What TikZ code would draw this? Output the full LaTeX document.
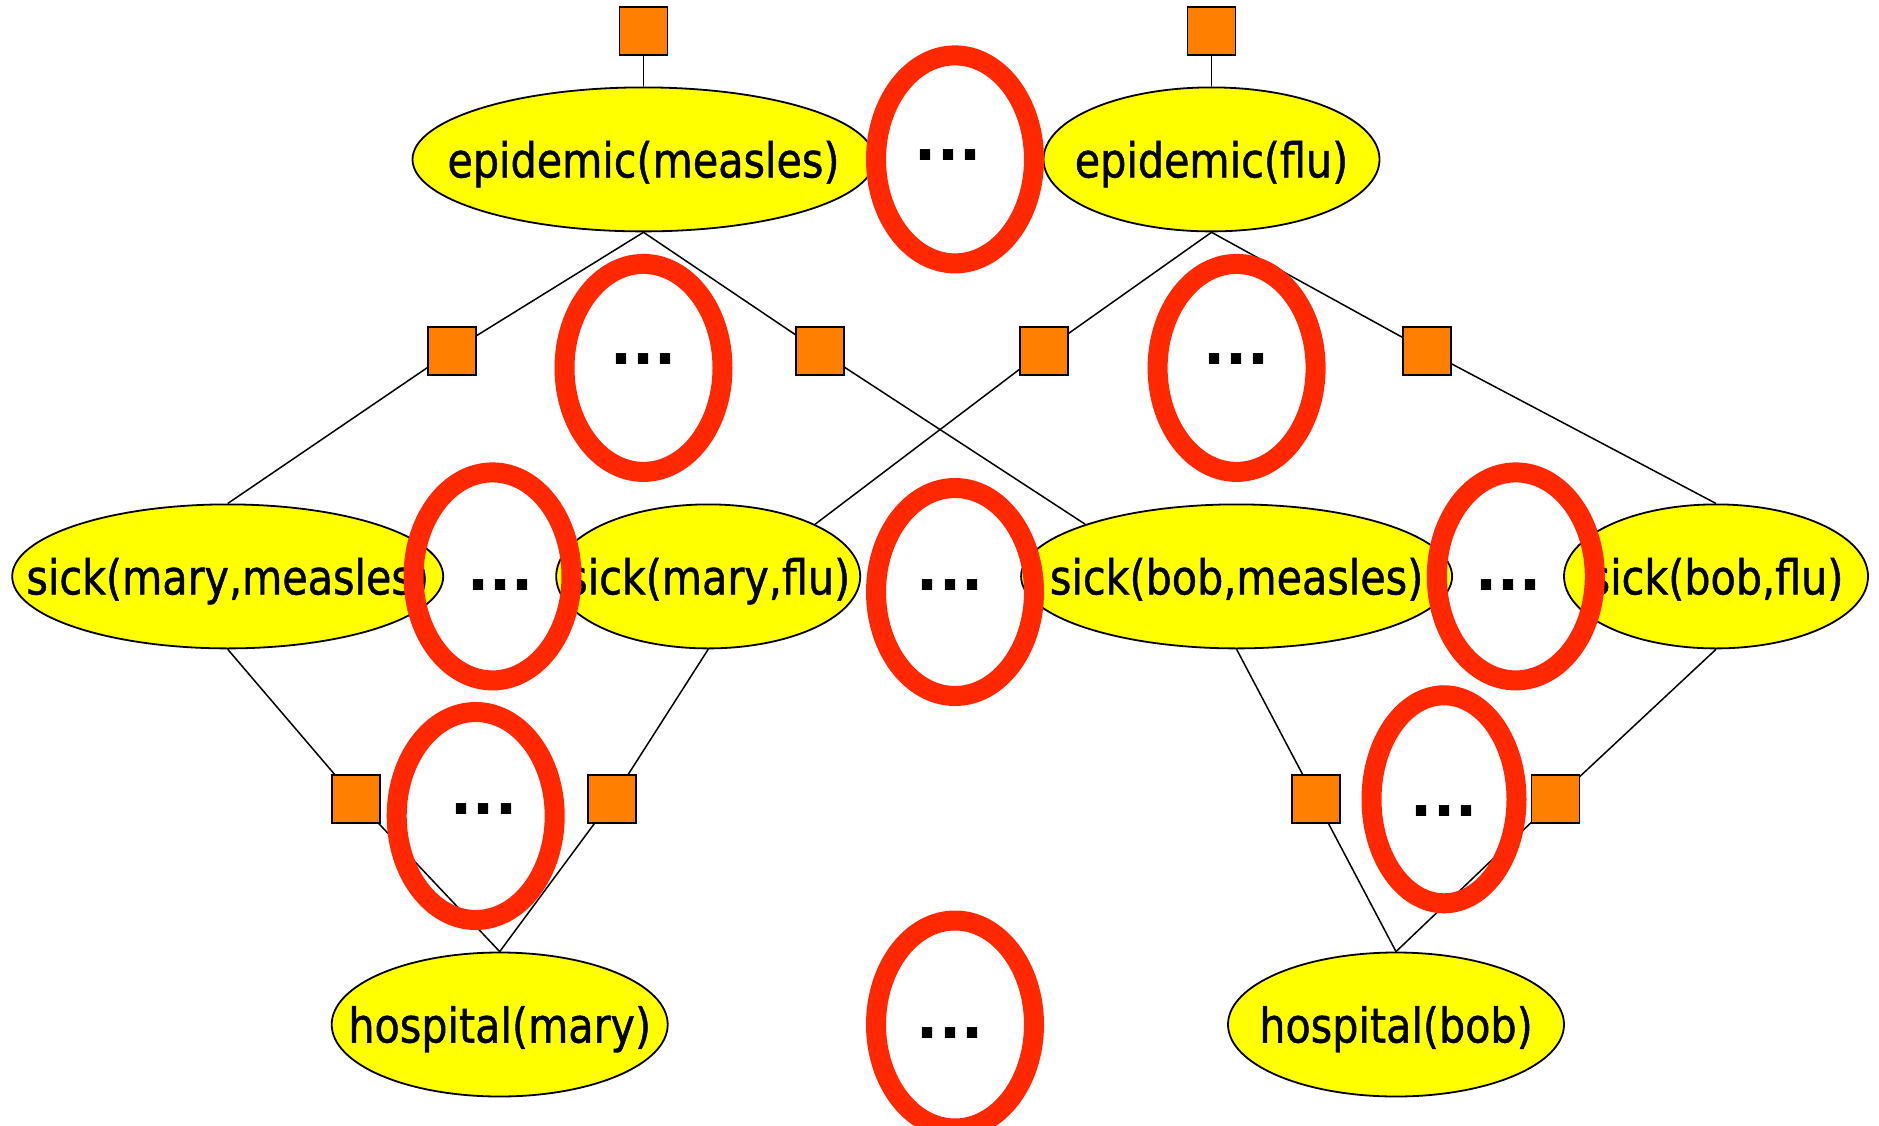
\documentclass[tikz,border=0pt]{standalone}
\usepackage{fontspec}
\setmainfont{DejaVu Sans}[FakeStretch=0.86,FakeBold=1]
\newfontfamily\dotsfont{DejaVu Sans}
\usetikzlibrary{shapes.geometric}
\pgfdeclarelayer{bg}
\pgfsetlayers{bg,main}
\definecolor{nodeyellow}{HTML}{FFFF00}
\definecolor{factororange}{HTML}{FF7F00}
\definecolor{ringred}{HTML}{FF2800}
\newcommand\zwtext[1]{\raisebox{-18pt}[0pt][0pt]{\makebox[0pt]{#1}}}
\begin{document}
\begin{tikzpicture}[x=1pt,y=-1pt,
 varnode/.style={ellipse, draw=black, line width=1.8pt, fill=nodeyellow, minimum height=144pt, inner sep=0pt, font=\fontsize{48}{52}\selectfont},
 factor/.style={rectangle, draw=black, line width=1.8pt, fill=factororange, minimum width=48pt, minimum height=48pt, inner sep=0pt},
 ring/.style={ellipse, draw=ringred, line width=20pt, minimum width=158pt, minimum height=208pt, inner sep=0pt},
 dotstext/.style={inner sep=0pt, font=\dotsfont\bfseries\fontsize{58}{60}\selectfont},
 conn/.style={draw=black, line width=1.5pt}]
\useasboundingbox (0,0) rectangle (1879,1126);
\clip (0,0) rectangle (1879,1126);
% factor and variable nodes
\node[factor] (t1) at (643.5,31.2) {};
\node[factor] (t2) at (1211.5,31.2) {};
\node[varnode, minimum width=462pt] (em) at (643.5,159.4) {\zwtext{epidemic(measles)}};
\node[varnode, minimum width=336pt] (ef) at (1211.5,159.4) {\zwtext{epidemic(flu)}};
\node[factor] (f1) at (451.8,351) {};
\node[factor] (f2) at (819.6,351) {};
\node[factor] (f3) at (1043.7,351) {};
\node[factor] (f4) at (1427.2,351) {};
\node[varnode, minimum width=431pt] (smm) at (227.7,576.4) {\zwtext{sick(mary,measles)}};
\node[varnode, minimum width=304pt] (smf) at (708.2,576.4) {\zwtext{sick(mary,flu)}};
\node[varnode, minimum width=431pt] (sbm) at (1236.6,576.4) {\zwtext{sick(bob,measles)}};
\node[varnode, minimum width=304pt] (sbf) at (1716,576.4) {\zwtext{sick(bob,flu)}};
\node[factor] (f5) at (355.9,799.3) {};
\node[factor] (f6) at (612.3,799.3) {};
\node[factor] (f7) at (1315.7,799.3) {};
\node[factor] (f8) at (1555.4,799.3) {};
\node[varnode, minimum width=336pt] (hm) at (499.7,1024.5) {\zwtext{hospital(mary)}};
\node[varnode, minimum width=336pt] (hb) at (1396,1024.5) {\zwtext{hospital(bob)}};
% connectors
\begin{pgfonlayer}{bg}
\draw[conn] (t1) -- (em.north);
\draw[conn] (t2) -- (ef.north);
\draw[conn] (em.south) -- (f1.center) -- (smm.north);
\draw[conn] (em.south) -- (f2.center) -- (sbm.161);
\draw[conn] (ef.south) -- (f3.center) -- (smf.26);
\draw[conn] (ef.south) -- (f4.center) -- (sbf.north);
\draw[conn] (smm.south) -- (f5.center) -- (hm.north);
\draw[conn] (smf.south) -- (f6.center) -- (hm.north);
\draw[conn] (sbm.south) -- (f7.center) -- (hb.north);
\draw[conn] (sbf.south) -- (f8.center) -- (hb.north);
\end{pgfonlayer}
% red rings
\node[ring] (r1) at (955,159.4) {};
\node[ring] (r2) at (643.5,367.9) {};
\node[ring] (r3) at (1236.6,367.9) {};
\node[ring] (r4) at (492.5,576.4) {};
\node[ring] (r5) at (955,592) {};
\node[ring] (r6) at (1515.8,576.4) {};
\node[ring] (r7) at (475.7,816) {};
\node[ring, minimum width=145pt] (r8) at (1444,799.3) {};
\node[ring] (r9) at (955,1024.5) {};
% dots
\node[dotstext] (d1) at (948,155) {...};
\node[dotstext] (d2) at (643.5,359.5) {...};
\node[dotstext] (d3) at (1236.6,359.5) {...};
\node[dotstext] (d4) at (500.9,584.8) {...};
\node[dotstext] (d5) at (950,584.8) {...};
\node[dotstext] (d6) at (1508.7,584.8) {...};
\node[dotstext] (d7) at (484,808.8) {...};
\node[dotstext] (d8) at (1444,811) {...};
\node[dotstext] (d9) at (950,1033) {...};
\end{tikzpicture}
\end{document}
